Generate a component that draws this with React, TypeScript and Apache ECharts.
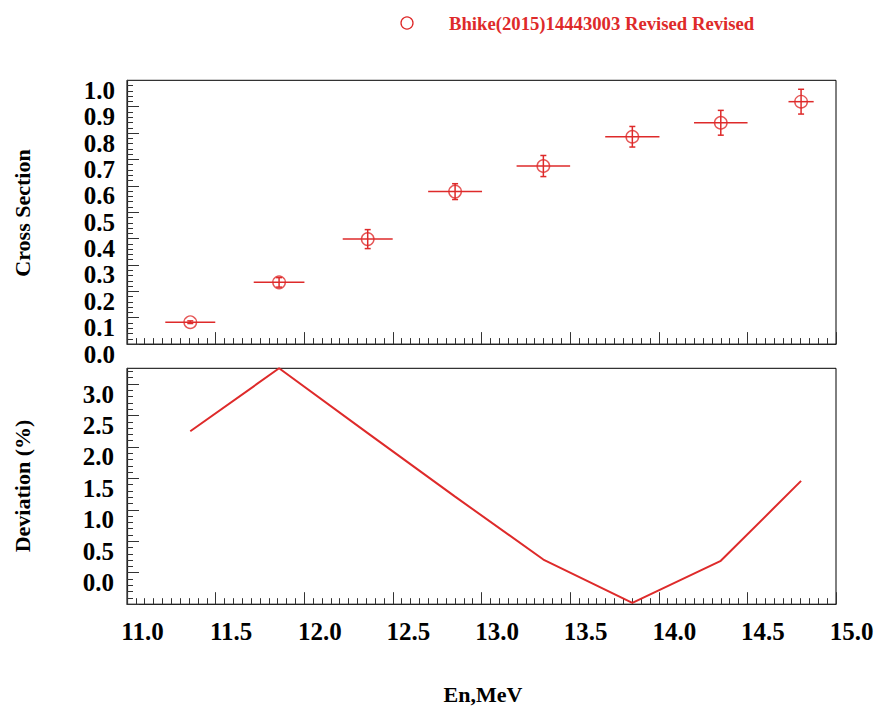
import React, { useEffect, useRef } from "react";
import * as echarts from "echarts";

const RED = "#de2a2a";
const FONT = "'Liberation Serif', 'Times New Roman', serif";

const seriesName = "Bhike(2015)14443003 Revised Revised";
const energies = [11.357, 11.858, 12.358, 12.851, 13.349, 13.851, 14.35, 14.803];
const energyErr = [0.141, 0.143, 0.141, 0.152, 0.151, 0.153, 0.151, 0.071];
const crossSection = [0.083, 0.234, 0.398, 0.578, 0.675, 0.786, 0.839, 0.919];
const crossSectionErr = [0.005, 0.018, 0.036, 0.03, 0.04, 0.039, 0.047, 0.047];
const deviation = [2.25, 3.25, 2.22, 1.21, 0.21, -0.48, 0.19, 1.46];

const xTitle = "En,MeV";
const yTopTitle = "Cross Section";
const yBottomTitle = "Deviation (%)";

export default function App() {
  const ref = useRef<HTMLDivElement>(null);
  useEffect(() => {
    if (!ref.current) return;
    const chart = echarts.init(ref.current, null, { renderer: "svg" });

    const gridLeft = 127;
    const gridWidth = 709;
    const LABEL_SIZE = 25;

    const commonX = (gridIndex: number, showLabel: boolean) => ({
      type: "value",
      gridIndex,
      min: 11,
      max: 15,
      interval: 0.5,
      axisLine: { show: true, onZero: false, lineStyle: { color: "#222", width: 1.2 } },
      axisTick: { show: true, inside: true, length: 12, lineStyle: { color: "#333", width: 1 } },
      minorTick: { show: true, splitNumber: 10, length: 6, lineStyle: { color: "#333", width: 1 } },
      splitLine: { show: false },
      axisLabel: {
        show: showLabel,
        fontFamily: FONT,
        fontWeight: "bold",
        fontSize: LABEL_SIZE,
        lineHeight: 25,
        color: "#000",
        margin: 15,
        padding: [0, 0, 0, 31],
        formatter: (v: number) => v.toFixed(1),
      },
    });

    const yLabel = (margin: number, lo: number, hi: number) => ({
      fontFamily: FONT,
      fontWeight: "bold",
      fontSize: LABEL_SIZE,
      color: "#000",
      margin,
      verticalAlign: "top",
      lineHeight: 20,
      showMaxLabel: true,
      formatter: (v: number) => (v < lo - 0.01 || v > hi + 0.01 ? "" : v.toFixed(1)),
    });

    const errData = energies.map((x, i) => [x, crossSection[i], energyErr[i], crossSectionErr[i]]);

    const option: any = {
      animation: false,
      backgroundColor: "#fff",
      grid: [
        { left: gridLeft, top: 80.3, width: gridWidth, height: 263.8, show: true, borderColor: "#000", borderWidth: 1, backgroundColor: "transparent" },
        { left: gridLeft, top: 368.3, width: gridWidth, height: 235.9, show: true, borderColor: "#000", borderWidth: 1, backgroundColor: "transparent" },
      ],
      xAxis: [commonX(0, false), commonX(1, true)],
      yAxis: [
        {
          type: "value",
          gridIndex: 0,
          min: 0,
          max: 1,
          interval: 0.1,
          axisLine: { show: true, onZero: false, lineStyle: { color: "#222", width: 1.2 } },
          axisTick: { show: true, inside: true, length: 12, lineStyle: { color: "#333", width: 1 } },
          minorTick: { show: true, splitNumber: 5, length: 6, lineStyle: { color: "#333", width: 1 } },
          splitLine: { show: false },
          axisLabel: yLabel(12, 0, 1),
        },
        {
          type: "value",
          gridIndex: 1,
          min: -0.5,
          max: 3.25,
          interval: 0.5,
          axisLine: { show: true, onZero: false, lineStyle: { color: "#222", width: 1.2 } },
          axisTick: { show: true, inside: true, length: 12, lineStyle: { color: "#333", width: 1 } },
          minorTick: { show: true, splitNumber: 5, length: 6, lineStyle: { color: "#333", width: 1 } },
          splitLine: { show: false },
          axisLabel: yLabel(13, 0, 3),
        },
      ],
      series: [
        {
          type: "custom",
          name: "errors",
          xAxisIndex: 0,
          yAxisIndex: 0,
          data: errData,
          encode: { x: 0, y: 1 },
          renderItem: (params: any, api: any) => {
            const x = api.value(0);
            const y = api.value(1);
            const xe = api.value(2);
            const ye = api.value(3);
            const l = api.coord([x - xe, y]);
            const r = api.coord([x + xe, y]);
            const b = api.coord([x, y - ye]);
            const t = api.coord([x, y + ye]);
            const cap = 3;
            const style = { stroke: RED, lineWidth: 1.5 };
            return {
              type: "group",
              children: [
                { type: "line", shape: { x1: l[0], y1: l[1], x2: r[0], y2: r[1] }, style },
                { type: "line", shape: { x1: b[0], y1: b[1], x2: t[0], y2: t[1] }, style },
                { type: "line", shape: { x1: t[0] - cap, y1: t[1], x2: t[0] + cap, y2: t[1] }, style },
                { type: "line", shape: { x1: b[0] - cap, y1: b[1], x2: b[0] + cap, y2: b[1] }, style },
              ],
            };
          },
          z: 2,
        },
        {
          type: "scatter",
          name: seriesName,
          xAxisIndex: 0,
          yAxisIndex: 0,
          data: energies.map((x, i) => [x, crossSection[i]]),
          symbol: "circle",
          symbolSize: 12.5,
          itemStyle: { color: "rgba(0,0,0,0)", borderColor: RED, borderWidth: 1.4 },
          z: 3,
        },
        {
          type: "line",
          name: "deviation",
          xAxisIndex: 1,
          yAxisIndex: 1,
          data: energies.map((x, i) => [x, deviation[i]]),
          symbol: "none",
          lineStyle: { color: RED, width: 2 },
          clip: false,
        },
      ],
      graphic: [
        { type: "circle", shape: { cx: 407, cy: 23, r: 6 }, style: { fill: "none", stroke: RED, lineWidth: 1.3 } },
        {
          type: "text",
          x: 449,
          y: 23,
          style: { text: seriesName, fill: RED, font: `bold 18.7px ${FONT}`, textAlign: "left", textVerticalAlign: "middle" },
        },
        {
          type: "text",
          x: 22,
          y: 213,
          rotation: Math.PI / 2,
          style: { text: yTopTitle, fill: "#000", font: `bold 22px ${FONT}`, textAlign: "center", textVerticalAlign: "middle" },
        },
        {
          type: "text",
          x: 22,
          y: 486,
          rotation: Math.PI / 2,
          style: { text: yBottomTitle, fill: "#000", font: `bold 22px ${FONT}`, textAlign: "center", textVerticalAlign: "middle" },
        },
        {
          type: "text",
          x: 483,
          y: 694,
          style: { text: xTitle, fill: "#000", font: `bold 22px ${FONT}`, textAlign: "center", textVerticalAlign: "middle" },
        },
      ],
    };
    chart.setOption(option);
    return () => chart.dispose();
  }, []);
  return <div ref={ref} style={{ position: "absolute", left: 0, top: 0, width: 879, height: 706 }} />;
}
